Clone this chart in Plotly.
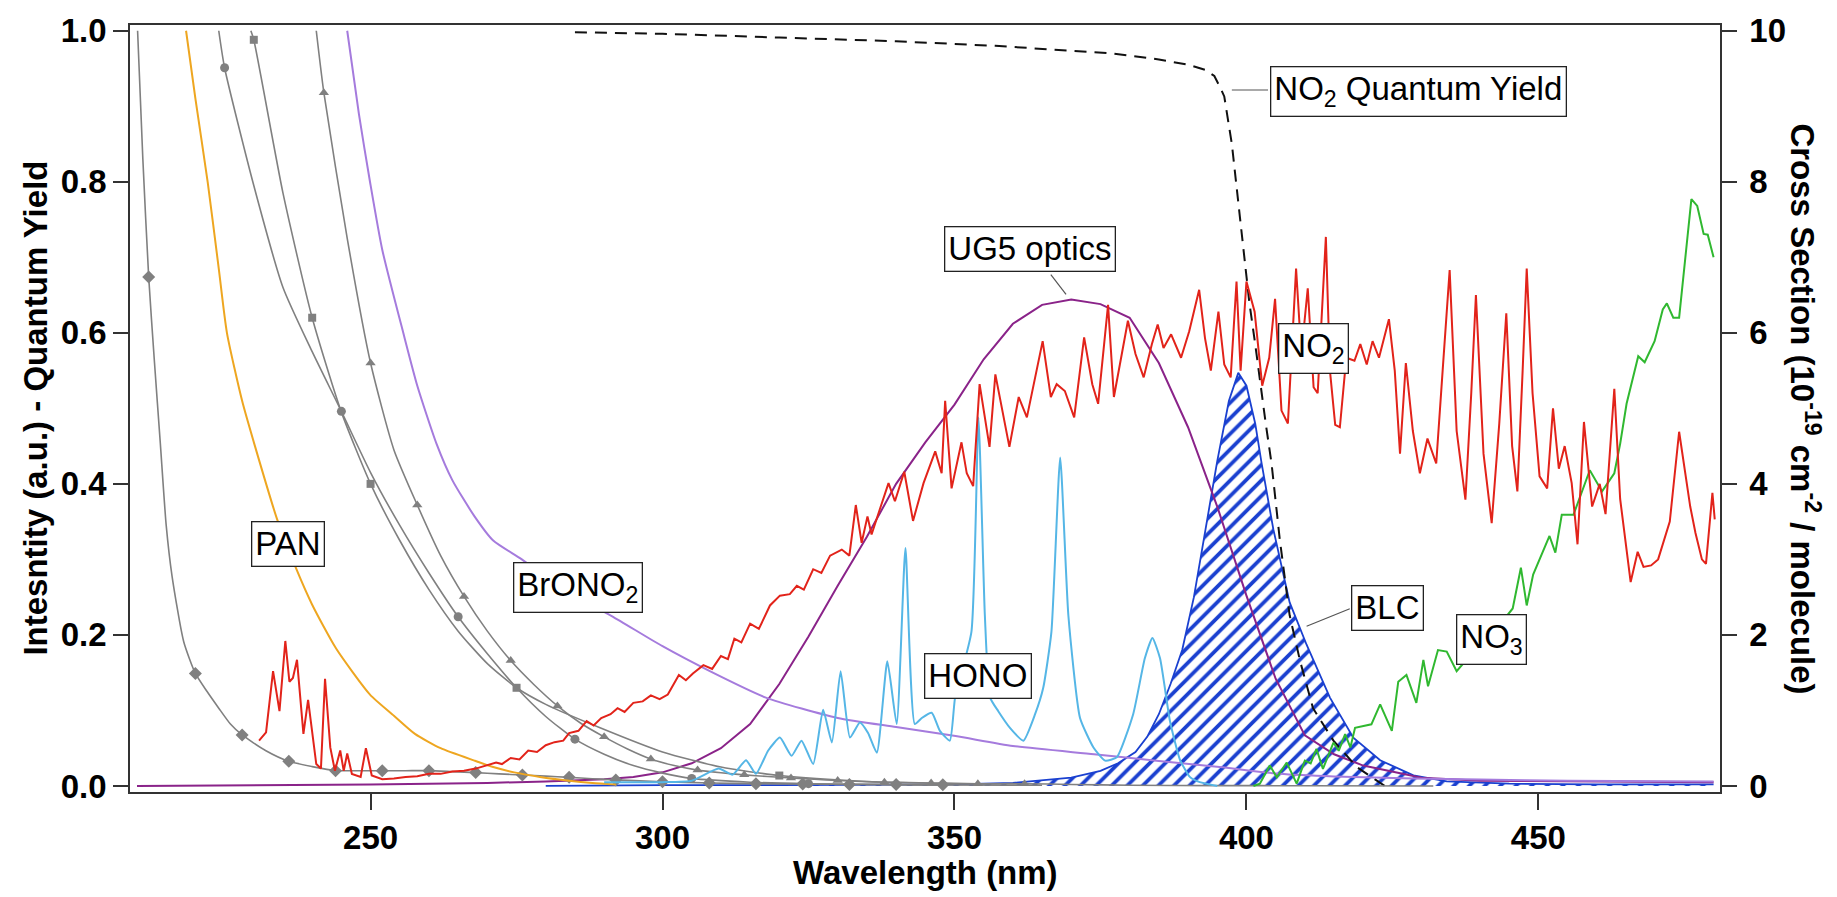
import plotly.graph_objects as go

FONT = "Liberation Sans, Arial, Helvetica, sans-serif"

# ---------------- cross sections (1e-19 cm^2 / molecule), right axis ----------------
no2_nm = [230.9, 232.1, 233.3, 234.4, 235.4, 236.1, 236.7, 237.4, 238.5, 239.3, 240.7, 241.5,
          242.2, 243.1, 243.9, 244.8, 245.4, 246.0, 246.8, 248.3, 249.2, 250.2, 252.0, 254.0,
          256.0, 258.0, 260.0, 262.0, 264.0, 266.0, 268.0, 270.0, 271.5, 272.5, 274.0, 275.5,
          277.0, 278.5, 280.0, 281.5, 283.0, 284.0, 285.6, 287.0, 288.2, 289.5, 291.1, 292.3,
          293.5, 295.0, 296.6, 298.0, 299.5, 300.9, 302.8, 304.0, 305.2, 307.0, 308.5, 310.0,
          311.2, 312.3, 313.5, 315.0, 316.5, 318.4, 320.1, 321.8, 323.0, 324.2, 325.8, 327.2,
          328.7, 330.7, 332.0, 333.1, 334.1, 335.1, 335.8, 337.2, 338.7, 339.8, 341.4, 342.9,
          344.7, 346.7, 347.8, 348.4, 349.5, 351.2, 352.1, 353.2, 354.3, 356.0, 357.0, 359.4,
          361.0, 362.4, 365.1, 366.5, 367.5, 368.9, 370.5, 372.2, 373.6, 374.6, 376.3, 377.3,
          379.7, 381.0, 382.4, 383.8, 384.8, 385.8, 387.1, 388.8, 390.2, 391.9, 392.9, 393.9,
          395.2, 396.2, 397.3, 398.3, 399.0, 400.0, 401.4, 402.7, 403.9, 404.9, 406.0, 407.1,
          408.5, 409.4, 410.5, 411.5, 412.2, 413.6, 414.3, 415.2, 416.0, 417.1, 418.5, 419.5,
          420.6, 421.6, 422.7, 424.4, 425.4, 426.3, 427.3, 428.5, 429.7, 431.0, 432.5, 433.6,
          434.8, 436.0, 437.5, 438.5, 439.3, 440.6, 442.0, 443.3, 444.5, 445.5, 446.4, 447.3,
          448.0, 449.0, 450.2, 451.5, 452.5, 453.5, 454.5, 455.7, 456.7, 457.8, 459.2, 460.5,
          461.5, 463.0, 464.0, 465.8, 467.0, 468.0, 469.3, 470.5, 471.4, 472.5, 474.1, 475.0,
          476.0, 476.9, 478.0, 478.7, 479.8, 480.2]
no2_xs = [0.60, 0.71, 1.52, 0.99, 1.92, 1.38, 1.43, 1.67, 0.69, 1.14, 0.29, 0.23,
          1.42, 0.51, 0.20, 0.47, 0.20, 0.43, 0.16, 0.12, 0.50, 0.14, 0.09, 0.10,
          0.12, 0.13, 0.16, 0.16, 0.19, 0.20, 0.23, 0.27, 0.31, 0.29, 0.37, 0.35,
          0.47, 0.45, 0.54, 0.58, 0.60, 0.70, 0.73, 0.86, 0.80, 0.90, 0.95, 1.03,
          0.98, 1.10, 1.12, 1.20, 1.15, 1.21, 1.47, 1.40, 1.49, 1.60, 1.55, 1.72,
          1.68, 1.95, 1.90, 2.15, 2.08, 2.39, 2.52, 2.54, 2.65, 2.60, 2.87, 2.82,
          3.05, 3.13, 3.05, 3.72, 3.22, 3.57, 3.33, 3.66, 4.01, 3.77, 4.16, 3.51,
          4.01, 4.43, 4.14, 5.10, 3.94, 4.55, 4.14, 3.97, 5.32, 4.49, 5.45, 4.49,
          5.15, 4.88, 5.89, 5.15, 5.32, 5.23, 4.88, 5.94, 5.32, 5.06, 6.37, 5.15,
          6.16, 5.72, 5.41, 5.85, 6.11, 5.80, 5.98, 5.67, 6.02, 6.57, 5.93, 5.50,
          6.28, 5.58, 5.41, 6.68, 5.50, 6.68, 6.28, 5.30, 5.67, 6.45, 4.97, 4.80,
          6.85, 5.72, 6.59, 5.28, 5.20, 7.27, 5.50, 4.78, 4.75, 5.67, 5.63, 5.85,
          5.58, 5.89, 5.67, 6.18, 5.50, 4.40, 5.60, 4.70, 4.14, 4.60, 4.27, 5.50,
          6.83, 4.70, 3.79, 5.20, 6.50, 4.40, 3.48, 4.80, 6.26, 4.50, 3.90, 5.50,
          6.85, 5.20, 4.10, 3.94, 5.00, 4.20, 4.50, 4.01, 3.20, 4.82, 3.70, 4.00,
          3.60, 5.26, 3.80, 2.70, 3.10, 2.90, 2.92, 3.00, 3.22, 3.50, 4.69, 4.20,
          3.70, 3.35, 3.00, 2.94, 3.88, 3.53]

hono_nm = [290.0, 300.0, 305.0, 309.6, 312.0, 314.3, 316.0, 318.1, 320.1, 322.1, 323.8, 325.8,
           327.5, 329.0, 330.5, 332.1, 333.8, 335.2, 336.7, 338.5, 340.1, 341.6, 343.2, 344.4,
           346.1, 347.5, 349.2, 350.1, 352.9, 354.1, 355.2, 356.1, 357.5, 359.5, 361.8, 363.8,
           365.2, 366.6, 368.1, 369.5, 371.5, 373.8, 375.8, 377.8, 380.6, 382.6, 383.9, 385.2,
           386.9, 388.6, 390.3, 392.0, 395.0]
hono_xs = [0.05, 0.05, 0.07, 0.23, 0.15, 0.34, 0.16, 0.47, 0.64, 0.40, 0.60, 0.29,
           1.01, 0.575, 1.52, 0.64, 0.84, 0.70, 0.44, 1.65, 0.82, 3.15, 0.82, 0.90,
           0.97, 0.73, 0.60, 1.17, 2.04, 4.88, 2.26, 1.17, 0.99, 0.77, 0.60, 0.95,
           1.30, 2.04, 4.35, 2.26, 0.90, 0.51, 0.335, 0.38, 0.95, 1.69, 1.96, 1.69,
           0.86, 0.35, 0.12, 0.05, 0.0]

no3_nm = [401.2, 402.3, 404.0, 405.2, 406.9, 408.6, 410.0, 411.0, 412.0, 413.1, 414.9, 415.8,
          416.9, 417.8, 418.6, 419.7, 421.4, 422.9, 424.9, 426.0, 427.4, 429.1, 430.3, 431.1,
          432.8, 434.3, 436.0, 438.0, 440.0, 442.0, 444.0, 445.6, 447.0, 448.0, 449.1, 451.9,
          452.9, 454.0, 456.0, 457.4, 458.8, 460.9, 463.0, 464.0, 465.1, 467.1, 468.2, 469.9,
          471.3, 472.0, 473.1, 474.1, 476.2, 477.2, 478.3, 479.0, 480.0]
no3_xs = [0.0, 0.03, 0.27, 0.115, 0.31, 0.03, 0.335, 0.30, 0.49, 0.226, 0.575, 0.466,
          0.685, 0.51, 0.77, 0.79, 0.816, 1.08, 0.73, 1.38, 1.47, 1.10, 1.67, 1.32,
          1.80, 1.78, 1.52, 1.70, 1.90, 2.00, 2.20, 2.35, 2.89, 2.39, 2.80, 3.31,
          3.09, 3.59, 3.59, 3.88, 4.18, 3.90, 4.14, 4.53, 5.06, 5.69, 5.61, 5.89,
          6.31, 6.39, 6.20, 6.20, 7.77, 7.68, 7.31, 7.30, 7.00]

brono2_nm = [246.0, 248.0, 249.9, 252.0, 255.6, 258.0, 261.3, 264.0, 267.8, 271.0, 275.9, 283.0,
             291.3, 300.0, 308.1, 317.7, 330.0, 340.0, 350.2, 360.0, 373.9, 385.0, 395.4, 405.7,
             415.0, 428.5, 440.0, 455.0, 480.0]
brono2_xs = [10.0, 8.9, 8.0, 7.1, 6.0, 5.3, 4.53, 4.05, 3.57, 3.25, 3.0, 2.6,
             2.25, 1.85, 1.52, 1.17, 0.90, 0.78, 0.66, 0.53, 0.42, 0.33, 0.25, 0.16,
             0.125, 0.10, 0.085, 0.07, 0.06]

pan_nm = [218.4, 220.0, 222.1, 224.0, 225.4, 228.0, 230.2, 234.0, 237.3, 240.0, 244.1, 249.9,
          254.0, 257.6, 262.0, 267.8, 271.0, 274.6, 279.0, 284.0, 288.0, 292.0]
pan_xs = [10.0, 9.1, 8.0, 6.85, 6.0, 5.1, 4.5, 3.53, 2.87, 2.4, 1.82, 1.21,
          0.93, 0.69, 0.5, 0.335, 0.25, 0.18, 0.12, 0.07, 0.04, 0.02]

# grey reference species, drawn with markers at their tabulated wavelengths
dia_nm = [210.1, 211.0, 212.0, 213.0, 214.0, 215.0, 216.0, 218.0, 220.0, 222.0, 224.0, 226.0,
          228.0, 232.0, 236.0, 240.0, 244.0, 248.0, 252.0, 256.0, 260.0, 264.0, 268.0, 272.0,
          276.0, 280.0, 284.0, 288.0, 292.0, 300.0, 308.0, 316.0, 324.0, 332.0, 340.0, 348.0]
dia_xs = [10.0, 8.3, 6.74, 5.6, 4.53, 3.45, 2.78, 1.91, 1.49, 1.25, 1.03, 0.82,
          0.676, 0.47, 0.326, 0.256, 0.203, 0.202, 0.201, 0.202, 0.203, 0.19, 0.177, 0.16,
          0.145, 0.13, 0.114, 0.095, 0.08, 0.055, 0.04, 0.03, 0.025, 0.02, 0.018, 0.015]
dia_marks = list(range(212, 349, 8))

circ_nm = [224.0, 225.0, 230.0, 235.0, 240.0, 245.0, 250.0, 255.0, 260.0, 265.0, 270.0, 275.0,
           280.0, 285.0, 290.0, 295.0, 300.0, 305.0, 315.0, 325.0, 345.0, 365.0]
circ_xs = [10.0, 9.51, 7.95, 6.6, 5.75, 4.96, 4.15, 3.45, 2.82, 2.24, 1.75, 1.3,
           0.92, 0.62, 0.42, 0.27, 0.17, 0.10, 0.05, 0.03, 0.015, 0.01]
circ_marks = [225, 245, 265, 285, 305, 325]

sq_nm = [229.5, 230.0, 235.0, 240.0, 245.0, 250.0, 255.0, 260.0, 265.0, 270.0, 275.0, 280.0,
         289.3, 300.0, 310.0, 320.0, 335.0, 350.0]
sq_xs = [10.0, 9.88, 7.85, 6.2, 4.95, 4.0, 3.25, 2.6, 2.05, 1.62, 1.3, 1.08,
         0.77, 0.45, 0.25, 0.138, 0.06, 0.03]
sq_marks = [230, 240, 250, 275, 320]

tri_nm = [240.7, 242.0, 246.0, 250.0, 254.0, 258.0, 262.0, 266.0, 270.0, 274.0, 278.0, 282.0,
          286.0, 290.0, 294.0, 298.0, 302.0, 306.0, 310.0, 314.0, 318.0, 322.0, 326.0, 330.0,
          334.0, 338.0, 342.0, 346.0, 350.0, 354.0, 358.0, 362.0, 370.0, 380.0, 395.0, 410.0,
          432.0]
tri_xs = [10.0, 9.18, 7.25, 5.6, 4.45, 3.72, 3.05, 2.51, 2.05, 1.66, 1.34, 1.06,
          0.83, 0.65, 0.49, 0.357, 0.27, 0.21, 0.175, 0.147, 0.125, 0.107, 0.088, 0.072,
          0.06, 0.05, 0.045, 0.04, 0.035, 0.03, 0.03, 0.03, 0.02, 0.01, 0.005, 0.003,
          0.0]
tri_marks = list(range(242, 363, 8))

# ---------------- lamp / optics intensities and quantum yield, left axis ----------------
ug5_nm = [210, 250, 270, 280, 290, 295, 300, 305, 310, 315, 320, 325, 330, 335, 340, 345,
          350, 355, 360, 365, 370, 375, 380, 385, 390, 395, 400, 405, 410, 415, 420, 430,
          440, 460, 480]
ug5_int = [0.0, 0.002, 0.004, 0.006, 0.009, 0.012, 0.018, 0.03, 0.05, 0.082, 0.135, 0.198,
           0.265, 0.33, 0.40, 0.455, 0.505, 0.565, 0.612, 0.637, 0.644, 0.638, 0.62, 0.56,
           0.475, 0.37, 0.252, 0.142, 0.067, 0.042, 0.027, 0.011, 0.007, 0.006, 0.005]

blc_nm = [280, 300, 320, 340, 350, 360, 365, 370, 375, 378, 381, 383, 385, 387, 389, 391,
          393, 395, 397, 398.6, 400, 401.5, 402.6, 404.6, 407.4, 410.3, 414.3, 418.3, 422.9,
          428.6, 434.3, 445, 460, 480]
blc_int = [0.0, 0.001, 0.001, 0.002, 0.002, 0.004, 0.007, 0.011, 0.02, 0.03, 0.045, 0.065,
           0.095, 0.135, 0.18, 0.25, 0.34, 0.43, 0.51, 0.547, 0.53, 0.48, 0.427, 0.34,
           0.243, 0.187, 0.117, 0.064, 0.034, 0.014, 0.006, 0.003, 0.002, 0.002]

qy_nm = [285, 300, 320, 340, 357, 370, 377, 385, 390, 393, 394.5, 395.5, 396.2, 397.5,
         398.5, 399.5, 400.5, 401.5, 402.5, 403.3, 404.3, 405.7, 407.4, 409.2, 411.4, 414.9,
         418.9, 423.7]
qy_val = [0.998, 0.996, 0.991, 0.986, 0.98, 0.974, 0.97, 0.962, 0.955, 0.948, 0.94, 0.925,
          0.913, 0.85, 0.78, 0.71, 0.64, 0.585, 0.525, 0.48, 0.427, 0.327, 0.226, 0.165,
          0.103, 0.06, 0.025, 0.0]

x_ticks = [250, 300, 350, 400, 450]
left_ticks = [0.0, 0.2, 0.4, 0.6, 0.8, 1.0]
right_ticks = [0, 2, 4, 6, 8, 10]

GREY = "#808080"
BLUE = "#1A40D0"

fig = go.Figure()

# BLC lamp emission, hatched
fig.add_trace(go.Scatter(
    x=blc_nm, y=blc_int, mode="lines", yaxis="y",
    line=dict(color=BLUE, width=1.8),
    fill="tozeroy", fillcolor="rgba(0,0,0,0)",
    fillpattern=dict(shape="/", fgcolor=BLUE, fgopacity=1, bgcolor="rgba(0,0,0,0)",
                     size=11, solidity=0.34),
))
# UG5 optics transmission
fig.add_trace(go.Scatter(x=ug5_nm, y=ug5_int, mode="lines", yaxis="y",
                         line=dict(color="#8A2389", width=2)))
# NO2 photolysis quantum yield
fig.add_trace(go.Scatter(x=qy_nm, y=qy_val, mode="lines", yaxis="y",
                         line=dict(color="#111111", width=2, dash="12px,8px")))


def grey_species(nm, xs, marks, symbol, msize):
    fig.add_trace(go.Scatter(x=nm, y=xs, mode="lines", yaxis="y2",
                             line=dict(color=GREY, width=1.6, shape="spline", smoothing=0.6)))
    mx = [a for a in nm if any(abs(a - m) < 1e-6 for m in marks)]
    my = [b for a, b in zip(nm, xs) if any(abs(a - m) < 1e-6 for m in marks)]
    fig.add_trace(go.Scatter(x=mx, y=my, mode="markers", yaxis="y2",
                             marker=dict(symbol=symbol, size=msize, color=GREY)))


grey_species(dia_nm, dia_xs, dia_marks, "diamond", 10)
grey_species(circ_nm, circ_xs, circ_marks, "circle", 9)
grey_species(sq_nm, sq_xs, sq_marks, "square", 8)
grey_species(tri_nm, tri_xs, tri_marks, "triangle-up", 9)

fig.add_trace(go.Scatter(x=pan_nm, y=pan_xs, mode="lines", yaxis="y2",
                         line=dict(color="#EEA620", width=2, shape="spline", smoothing=0.6)))
fig.add_trace(go.Scatter(x=brono2_nm, y=brono2_xs, mode="lines", yaxis="y2",
                         line=dict(color="#A57BDD", width=2, shape="spline", smoothing=0.6)))
fig.add_trace(go.Scatter(x=hono_nm, y=hono_xs, mode="lines", yaxis="y2",
                         line=dict(color="#55B6E6", width=2, shape="spline", smoothing=0.5)))
fig.add_trace(go.Scatter(x=no3_nm, y=no3_xs, mode="lines", yaxis="y2",
                         line=dict(color="#30B830", width=2)))
fig.add_trace(go.Scatter(x=no2_nm, y=no2_xs, mode="lines", yaxis="y2",
                         line=dict(color="#E2231A", width=2)))

# boxed species labels (x in nm, y on the left-axis scale)
labels = [
    ("PAN", 235.8, 0.321),
    ("BrONO<sub>2</sub>", 285.6, 0.2625),
    ("HONO", 354.1, 0.145),
    ("UG5 optics", 362.9, 0.711),
    ("NO<sub>2</sub> Quantum Yield", 429.4, 0.920),
    ("NO<sub>2</sub>", 411.5, 0.579),
    ("BLC", 424.2, 0.235),
    ("NO<sub>3</sub>", 441.9, 0.1936),
]
annotations = []
for txt, lx, ly in labels:
    annotations.append(dict(
        text=txt, x=lx, y=ly, xref="x", yref="y", showarrow=False,
        xanchor="center", yanchor="middle",
        font=dict(family=FONT, size=33, color="#000000"),
        bgcolor="#FFFFFF", bordercolor="#222222", borderwidth=1.3, borderpad=3,
    ))

# leader lines from labels to their curves
leaders = [
    (366.5, 0.677, 369.1, 0.651),
    (397.5, 0.9215, 403.7, 0.9215),
    (410.3, 0.2115, 417.7, 0.2346),
]
shapes = [dict(type="line", xref="x", yref="y", x0=a, y0=b, x1=c, y1=d,
               line=dict(color="#555555", width=1.2), layer="above")
          for a, b, c, d in leaders]

TITLE_FONT = dict(family=FONT, size=33, color="#000000", weight="bold")

# axis titles
annotations += [
    dict(text="Wavelength (nm)", x=0.5, y=-0.105, xref="paper", yref="paper",
         showarrow=False, xanchor="center", yanchor="middle", font=TITLE_FONT),
    dict(text="Intesntity (a.u.) - Quantum Yield", x=-0.0597, y=0.5,
         xref="paper", yref="paper", showarrow=False, textangle=-90,
         xanchor="center", yanchor="middle", font=TITLE_FONT),
    dict(text="Cross Section (10<sup>-19</sup> cm<sup>-2</sup> / molecule)",
         x=1.0535, y=0.5, xref="paper", yref="paper", showarrow=False, textangle=90,
         xanchor="center", yanchor="middle", font=TITLE_FONT),
]

axis_common = dict(showgrid=False, zeroline=False, showline=True, linecolor="#333333",
                   linewidth=1.5, ticks="outside", tickcolor="#333333", tickwidth=1.5,
                   tickfont=dict(family=FONT, size=33, color="#000000", weight="bold"))

fig.update_layout(
    width=1837, height=897,
    margin=dict(l=130, r=117, t=18, b=105),
    paper_bgcolor="#FFFFFF", plot_bgcolor="#FFFFFF",
    showlegend=False,
    xaxis=dict(range=[208.8, 481.1], tickvals=x_ticks, ticklen=16, mirror=True,
               **axis_common),
    yaxis=dict(range=[-0.008, 1.0076], tickvals=left_ticks,
               ticktext=[f"{v:.1f}" for v in left_ticks], ticklen=15, **axis_common),
    yaxis2=dict(range=[-0.08, 10.076], tickvals=right_ticks,
                ticktext=[str(v) for v in right_ticks], ticklen=15, overlaying="y",
                side="right", ticklabelstandoff=6, **axis_common),
    annotations=annotations,
    shapes=shapes,
)

fig.write_html("out.html")
